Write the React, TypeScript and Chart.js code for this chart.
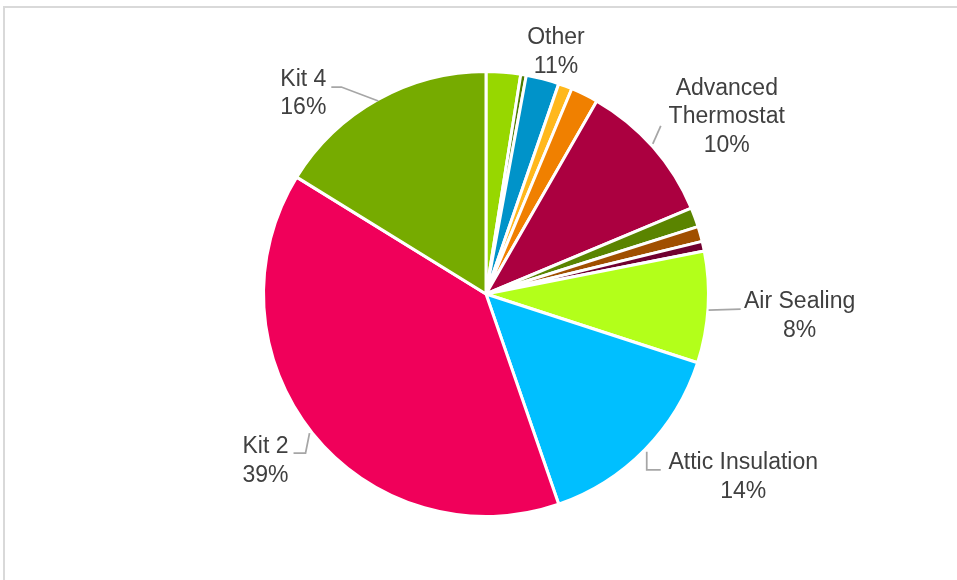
import React, { useEffect, useRef } from "react";
import { Chart, registerables } from "chart.js";

Chart.register(...registerables);

// Slice order clockwise from 12 o'clock
const categories = [
  "Other 1",
  "Other 2",
  "Other 3",
  "Other 4",
  "Other 5",
  "Advanced Thermostat",
  "Other 6",
  "Other 7",
  "Other 8",
  "Air Sealing",
  "Attic Insulation",
  "Kit 2",
  "Kit 4",
];

const shares = [2.5, 0.4, 2.4, 1.0, 2.0, 10.4, 1.4, 1.1, 0.7, 8.1, 14.7, 39.1, 16.2];

const sliceColors = [
  "#97d700",
  "#4e7c00",
  "#0093c9",
  "#ffb81c",
  "#f08000",
  "#ab0040",
  "#5a8400",
  "#a04f00",
  "#700030",
  "#b3ff1a",
  "#00bfff",
  "#f0005a",
  "#76ab00",
];

// Data label texts (as printed on the chart)
const labelTexts = [
  ["Other", "11%"],
  ["Advanced", "Thermostat", "10%"],
  ["Air Sealing", "8%"],
  ["Attic Insulation", "14%"],
  ["Kit 2", "39%"],
  ["Kit 4", "16%"],
];
// Which slices each label refers to (first..last index)
const labelSlices = [
  [0, 4],
  [5, 5],
  [9, 9],
  [10, 10],
  [11, 11],
  [12, 12],
];

// Label placement style (offset of block centre from slice edge, leader path offsets)
const labelPlacement = [
  { dx: 13, dy: -28.5, leader: [] as number[][] },
  { dx: 75, dy: -31, leader: [[1, -4], [9, -22]] },
  { dx: 93, dy: 9, leader: [[2, 3], [34, 2]] },
  { dx: 99.5, dy: 28.5, leader: [[3, 3], [3, 21], [17, 21]] },
  { dx: -48, dy: 29, leader: [[-4, 1], [-8, 21], [-20, 21]] },
  { dx: -75, dy: -7.5, leader: [[0, 0], [-37, -14], [-47, -14]] },
];

const labelPlugin = {
  id: "pieLabels",
  afterDatasetsDraw(chart: any) {
    const meta = chart.getDatasetMeta(0);
    const arcs = meta.data;
    if (!arcs || !arcs.length) return;
    const ctx = chart.ctx;
    ctx.save();
    labelTexts.forEach((lines, i) => {
      const [a, b] = labelSlices[i];
      const first = arcs[a];
      const last = arcs[b];
      const start = first.startAngle;
      const end = last.endAngle;
      const mid = (start + end) / 2;
      const r = first.outerRadius - 1.5;
      const ax = first.x + Math.cos(mid) * r;
      const ay = first.y + Math.sin(mid) * r;
      const pl = labelPlacement[i];
      if (pl.leader.length > 1) {
        ctx.beginPath();
        ctx.strokeStyle = "#a6a6a6";
        ctx.lineWidth = 1.75;
        pl.leader.forEach((p, k) => {
          if (k === 0) ctx.moveTo(ax + p[0], ay + p[1]);
          else ctx.lineTo(ax + p[0], ay + p[1]);
        });
        ctx.stroke();
      }
      const cx = ax + pl.dx;
      const cy = ay + pl.dy;
      const lh = 28.5;
      ctx.fillStyle = "#404040";
      ctx.font = '23px "Liberation Sans", Arial, sans-serif';
      ctx.textAlign = "center";
      ctx.textBaseline = "middle";
      lines.forEach((t, k) => {
        const y = cy + (k - (lines.length - 1) / 2) * lh;
        ctx.fillText(t, cx, y);
      });
    });
    ctx.restore();
  },
};

export default function App() {
  const ref = useRef<HTMLCanvasElement | null>(null);

  useEffect(() => {
    document.body.style.margin = "0";
    document.body.style.overflow = "hidden";
    if (!ref.current) return;
    const chart = new Chart(ref.current, {
      type: "pie",
      data: {
        labels: categories,
        datasets: [
          {
            data: shares,
            backgroundColor: sliceColors,
            borderColor: "#ffffff",
            borderWidth: 3,
            hoverOffset: 0,
          },
        ],
      },
      options: {
        responsive: false,
        animation: false,
        layout: { padding: { left: 15, right: 0, top: 70, bottom: 62 } },
        plugins: {
          legend: { display: false },
          tooltip: { enabled: false },
        },
      },
      plugins: [labelPlugin],
    });
    return () => chart.destroy();
  }, []);

  return (
    <div style={{ position: "relative", width: 957, height: 580, overflow: "hidden", background: "#ffffff" }}>
      <div
        style={{
          position: "absolute",
          left: 3,
          top: 6,
          width: 1100,
          height: 1100,
          border: "2px solid #d9d9d9",
          boxSizing: "border-box",
        }}
      />
      <canvas ref={ref} width={957} height={580} style={{ position: "absolute", left: 0, top: 0 }} />
    </div>
  );
}
